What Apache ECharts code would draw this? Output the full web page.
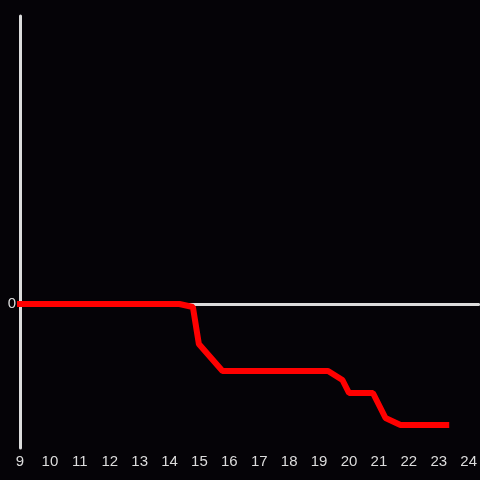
<!DOCTYPE html>
<html>
<head>
<meta charset="utf-8">
<script src="https://cdn.jsdelivr.net/npm/echarts@6/dist/echarts.min.js"></script>
<style>
html,body{margin:0;padding:0;background:#050307;}
#c{width:480px;height:480px;}
</style>
</head>
<body>
<div id="c"></div>
<script>
// Hours of day (x) and values (y)
const hours  = [9, 14.33, 14.78, 14.98, 15.77, 19.3, 19.78, 20.0, 20.8, 21.22, 21.72, 23.25];
const values = [0, 0, -3, -40, -67, -67, -76, -89, -89, -114, -121, -121];
const xTicks = [9, 10, 11, 12, 13, 14, 15, 16, 17, 18, 19, 20, 21, 22, 23, 24];
const yTickLabels = ['0'];

const chart = echarts.init(document.getElementById('c'), null, {renderer: 'canvas'});
const axisColor = '#dcdcdc';
const fontFamily = 'Liberation Sans, Arial, sans-serif';
chart.setOption({
  backgroundColor: '#050307',
  animation: false,
  grid: {left: 20, right: 0, top: 16, bottom: 32, containLabel: false},
  xAxis: [{
    type: 'value', min: xTicks[0], max: 24.33, interval: 1, position: 'bottom',
    axisLine: {show: false, onZero: false},
    axisTick: {show: false},
    splitLine: {show: false},
    axisLabel: {
      color: axisColor, fontSize: 15, fontFamily: fontFamily, margin: 6,
      showMaxLabel: false,
      formatter: v => xTicks.includes(v) ? String(v) : ''
    }
  }, {
    type: 'value', min: xTicks[0], max: 24.33, interval: 1, position: 'bottom',
    axisLine: {show: true, onZero: true, lineStyle: {color: axisColor, width: 3}},
    axisTick: {show: false},
    splitLine: {show: false},
    axisLabel: {show: false}
  }],
  yAxis: {
    type: 'value', min: -144, max: 288, interval: 144,
    axisLine: {show: true, onZero: false, lineStyle: {color: axisColor, width: 3}},
    axisTick: {show: false},
    splitLine: {show: false},
    axisLabel: {
      color: axisColor, fontSize: 15, fontFamily: fontFamily, margin: 4,
      padding: [2, 0, 0, 0],
      formatter: v => v === 0 ? yTickLabels[0] : ''
    }
  },
  series: [{
    type: 'line',
    xAxisIndex: 0,
    data: hours.map((h, i) => [h, values[i]]),
    showSymbol: false,
    lineStyle: {color: '#ff0000', width: 6, cap: 'square'},
    z: 3
  }]
});
</script>
</body>
</html>
